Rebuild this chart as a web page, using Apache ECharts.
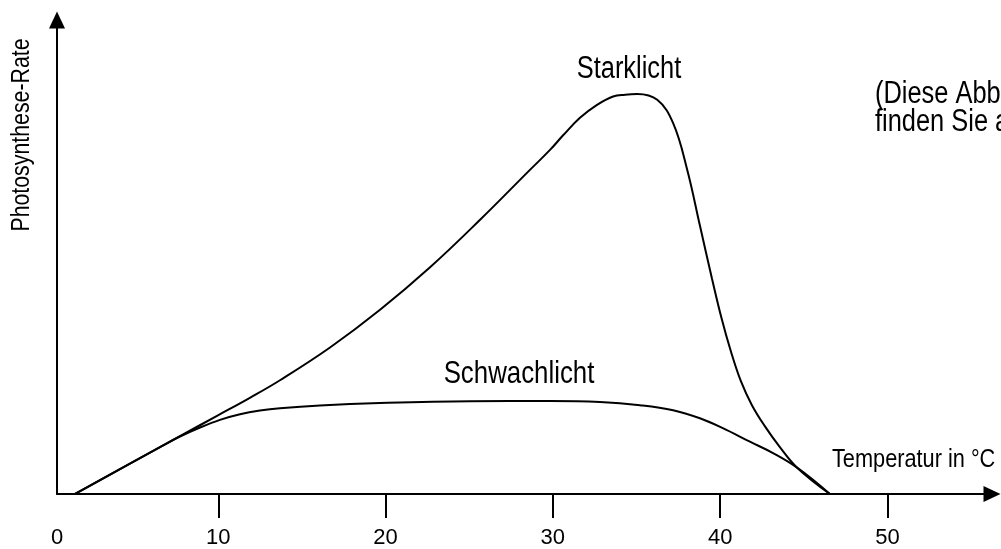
<!DOCTYPE html>
<html lang="de">
<head>
<meta charset="utf-8">
<title>Photosynthese-Rate und Temperatur</title>
<script src="https://cdn.jsdelivr.net/npm/echarts@6/dist/echarts.min.js"></script>
<style>
  html, body { margin: 0; padding: 0; background: #fff; }
  #chart { width: 1001px; height: 549px; }
</style>
</head>
<body>
<div id="chart"></div>
<script>
// Temperature axis: visible range and tick marks
const X_MIN = 0.36;
const X_MAX = 56.25;
const tempTickValues = [0, 10, 20, 30, 40, 50];
const tempTickLabels = ['0', '10', '20', '30', '40', '50'];

// Photosynthesis rate (relative units) over temperature in °C
const strongLight = [
  [1.43, 0], [4.72, 7.64], [7.71, 14.5], [9.98, 19.7], [11.89, 24.1],
  [13.69, 28.5], [16.68, 36.7], [19.67, 46.15], [22.66, 56.8], [25.65, 68.7],
  [28.63, 81.2], [29.83, 86.2], [30.6, 89.8], [31.62, 94.25], [32.64, 97.5],
  [33.6, 99.6], [34.32, 100.05], [35.04, 100.2], [36.24, 98.75], [37.19, 92.9],
  [38.03, 81.25], [38.79, 67.25], [39.51, 54.0], [40.1, 43.75], [40.64, 35.75],
  [41.24, 28.25], [41.9, 22.25], [42.67, 17.0], [43.57, 11.75], [44.6, 6.6],
  [46.56, 0]
];
const weakLight = [
  [1.43, 0], [4.72, 7.6], [6.52, 11.76], [7.71, 14.4], [8.91, 16.65],
  [10.1, 18.56], [11.3, 19.96], [12.49, 20.9], [13.69, 21.5], [16.08, 22.2],
  [19.67, 22.8], [25.05, 23.25], [29.83, 23.3], [32.82, 23.05], [35.21, 22.25],
  [37.19, 21.0], [38.79, 18.97], [40.16, 16.5], [41.78, 13.1], [43.16, 10.25],
  [44.6, 6.6], [46.56, 0]
];

const FONT = '"Liberation Sans", Arial, Helvetica, sans-serif';
const NARROW = 0.82; // horizontal squeeze giving a narrow sans look
const INK = '#000';

const chart = echarts.init(document.getElementById('chart'), null, { renderer: 'canvas' });

const tickPositions = tempTickValues.filter(v => v > X_MIN);
const labelPositions = tempTickValues.map(v => Math.max(v, X_MIN));

const lineSeries = (name, data) => ({
  name,
  type: 'line',
  data,
  smooth: 0.4,
  showSymbol: false,
  symbol: 'none',
  lineStyle: { color: INK, width: 2 },
  z: 3
});

const narrowText = (text, x, y, size, opts = {}) => ({
  type: 'text',
  x, y,
  rotation: opts.rotation || 0,
  scaleX: NARROW,
  style: {
    text,
    fill: INK,
    font: size + 'px ' + FONT,
    lineHeight: opts.lineHeight,
    align: opts.align || 'center',
    verticalAlign: 'middle'
  }
});

chart.setOption({
  animation: false,
  backgroundColor: '#fff',
  grid: { left: 57, right: 9, top: 20, bottom: 54 },
  xAxis: {
    type: 'value',
    min: X_MIN,
    max: X_MAX,
    splitLine: { show: false },
    axisLine: {
      show: true,
      onZero: false,
      symbol: ['none', 'triangle'],
      symbolSize: [16, 17],
      lineStyle: { color: INK, width: 2 }
    },
    axisTick: {
      show: true,
      customValues: tickPositions,
      length: 24,
      inside: false,
      lineStyle: { color: INK, width: 2 }
    },
    axisLabel: {
      show: true,
      customValues: labelPositions,
      margin: 33,
      color: INK,
      fontFamily: FONT,
      fontSize: 22,
      formatter: v => {
        const i = labelPositions.indexOf(v);
        return i >= 0 ? tempTickLabels[i] : '';
      }
    }
  },
  yAxis: {
    type: 'value',
    min: 0,
    max: 118.75,
    splitLine: { show: false },
    axisTick: { show: false },
    axisLabel: { show: false },
    axisLine: {
      show: true,
      onZero: false,
      symbol: ['none', 'triangle'],
      symbolSize: [16, 17],
      lineStyle: { color: INK, width: 2 }
    }
  },
  series: [
    lineSeries('Starklicht', strongLight),
    lineSeries('Schwachlicht', weakLight)
  ],
  graphic: [
    narrowText('Photosynthese-Rate', 22, 135, 26, { rotation: Math.PI / 2 }),
    narrowText('Temperatur in °C', 832, 460, 26.5, { align: 'left' }),
    narrowText('Starklicht', 629, 69, 31),
    narrowText('Schwachlicht', 519, 374, 31.5),
    narrowText('(Diese Abbildung\nfinden Sie auch im Skript)', 875, 108.3, 31,
      { align: 'left', lineHeight: 28.5 })
  ]
});
</script>
</body>
</html>
